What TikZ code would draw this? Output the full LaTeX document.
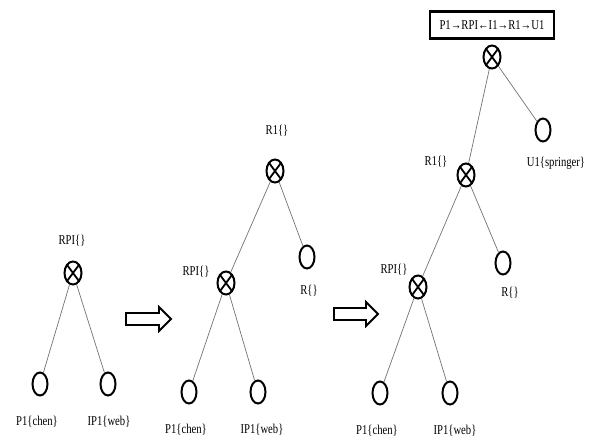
\documentclass[tikz,border=0pt]{standalone}
\usepackage{fontspec}
\setmainfont{Liberation Serif}
\usetikzlibrary{shapes.geometric}
\newcommand\lbl[1]{\scalebox{0.79}[1]{#1}}
\begin{document}
\begin{tikzpicture}[x=1pt,y=-1pt,
  edgeline/.style={draw=black!55,line width=0.7pt},
  leaf/.style={draw,ellipse,line width=2pt,minimum width=15pt,minimum height=23pt,inner sep=0pt},
  xnode/.style={draw,ellipse,line width=2pt,minimum width=17pt,minimum height=23pt,inner sep=0pt,
    path picture={\draw[line width=1.8pt]
      (path picture bounding box.north west)--(path picture bounding box.south east)
      (path picture bounding box.north east)--(path picture bounding box.south west);}},
  tag/.style={font=\fontsize{13.5}{14}\selectfont,inner sep=1pt},
  goarrow/.style={draw,line width=1.8pt,line join=miter},
  titlebox/.style={draw,line width=2.6pt,minimum width=124pt,minimum height=27pt,inner sep=0pt,font=\fontsize{13.5}{14}\selectfont}]
\useasboundingbox (0,0) rectangle (595,441);
\fill[white] (0,0) rectangle (595,441);

% first tree
\node[xnode] (a0) at (73,273) {};
\node[tag] (a0t) at (72,241) {\lbl{RPI\{\}}};
\node[leaf] (a1) at (40,384) {};
\node[leaf] (a2) at (108,384) {};
\node[tag] (a1t) at (37,422) {\lbl{P1\{chen\}}};
\node[tag] (a2t) at (109,422) {\lbl{IP1\{web\}}};
\draw[edgeline] (a0) -- (a1);
\draw[edgeline] (a0) -- (a2);

% first step arrow
\draw[goarrow] (126,313) -- (159,313) -- (159,307) -- (171,319) -- (159,331) -- (159,325) -- (126,325) -- cycle;

% second tree
\node[xnode] (b0) at (275,171) {};
\node[tag] (b0t) at (277,131) {\lbl{R1\{\}}};
\node[leaf] (b1) at (307,257) {};
\node[tag] (b1t) at (309,291) {\lbl{R\{\}}};
\node[xnode] (b2) at (226,283) {};
\node[tag] (b2t) at (196,272) {\lbl{RPI\{\}}};
\node[leaf] (b3) at (189,392) {};
\node[leaf] (b4) at (258,392) {};
\node[tag] (b3t) at (186,430) {\lbl{P1\{chen\}}};
\node[tag] (b4t) at (262,430) {\lbl{IP1\{web\}}};
\draw[edgeline] (b0) -- (b1);
\draw[edgeline] (b0) -- (b2);
\draw[edgeline] (b2) -- (b3);
\draw[edgeline] (b2) -- (b4);

% second step arrow
\draw[goarrow] (334,308) -- (366,308) -- (366,302) -- (378,314) -- (366,326) -- (366,320) -- (334,320) -- cycle;

% third tree
\node[titlebox] (c9) at (492,25) {\lbl{P1→RPI←I1→R1→U1}};
\node[xnode] (c0) at (492,57) {};
\node[leaf] (c1) at (543,130) {};
\node[tag] (c1t) at (556,163) {\lbl{U1\{springer\}}};
\node[xnode] (c2) at (466,175) {};
\node[tag] (c2t) at (436,162) {\lbl{R1\{\}}};
\node[leaf] (c3) at (503,263) {};
\node[tag] (c3t) at (510,293) {\lbl{R\{\}}};
\node[xnode] (c4) at (418,287) {};
\node[tag] (c4t) at (394,270) {\lbl{RPI\{\}}};
\node[leaf] (c5) at (380,393) {};
\node[leaf] (c6) at (450,393) {};
\node[tag] (c5t) at (377,431) {\lbl{P1\{chen\}}};
\node[tag] (c6t) at (455,431) {\lbl{IP1\{web\}}};
\draw[edgeline] (c0) -- (c1);
\draw[edgeline] (c0) -- (c2);
\draw[edgeline] (c2) -- (c3);
\draw[edgeline] (c2) -- (c4);
\draw[edgeline] (c4) -- (c5);
\draw[edgeline] (c4) -- (c6);
\end{tikzpicture}
\end{document}
